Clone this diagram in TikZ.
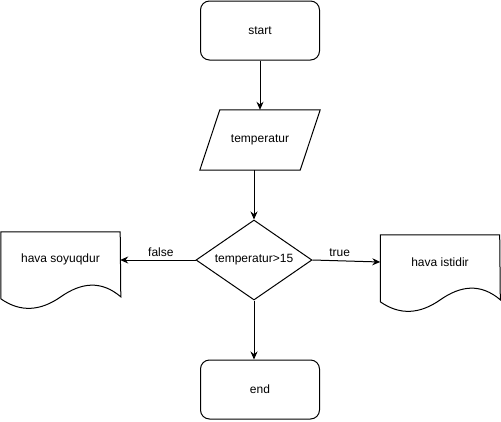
\documentclass[tikz,border=0pt]{standalone}
\usepackage{fontspec}
\setmainfont{Liberation Sans}
\usetikzlibrary{shapes.geometric,arrows.meta,calc}

% wavy document box drawn round a named node
\newcommand{\docshape}[1]{%
\draw[line width=1pt] (#1.north west) -- (#1.north east)
  -- ($(#1.north west)+(120,65)$)
  .. controls ($(#1.north west)+(100,48)$) and ($(#1.north west)+(80,51)$) .. ($(#1.north west)+(60,65)$)
  .. controls ($(#1.north west)+(40,79)$) and ($(#1.north west)+(20,81)$) .. ($(#1.north west)+(0,67)$)
  -- cycle;}

\begin{document}
\begin{tikzpicture}[x=1pt,y=-1pt,font=\fontsize{12}{14}\selectfont,
  >={Stealth[length=8pt,width=7pt]},
  term/.style={rectangle,rounded corners=9pt,draw=black,line width=1pt,minimum width=119pt,minimum height=59pt},
  doc/.style={rectangle,minimum width=119pt,minimum height=54pt}]
\useasboundingbox (0,0) rectangle (501,421);
% \draw[help lines] (0,0) grid (501,421);
\node (start) [term] at (260,30.5) {start};
\node (temp) [rectangle,minimum width=100pt,minimum height=60pt] at (260,140) {temperatur};
\draw[line width=1pt] ([xshift=10pt]temp.north west) -- ([xshift=10pt]temp.north east)
  -- ([xshift=-10pt]temp.south east) -- ([xshift=-10pt]temp.south west) -- cycle;
\node (dia) [diamond,draw=black,line width=1pt,inner sep=0pt,aspect=1.45,minimum width=116pt,minimum height=80pt] at (254,260) {temperatur>15};
\node (cold) [doc] at (60.5,259) {hava soyuqdur};
\node (warm) [doc] at (440,262) {hava istidir};
\docshape{cold}
\docshape{warm}
\node (end) [term] at (260,389.5) {end};
%
\draw[->,line width=1pt] (start) -- (temp);
\draw[->,line width=1pt] (temp.south -| dia.north) -- (dia.north);
\draw[->,line width=1pt] (dia.west) -- node[above,xshift=3pt] {false} (dia.west -| cold.east);
\draw[->,line width=1pt] (dia.east) -- node[above,pos=0.4] {true} (warm.west);
\draw[->,line width=1pt] (dia.south) -- (dia.south |- end.north);
\end{tikzpicture}
\end{document}
